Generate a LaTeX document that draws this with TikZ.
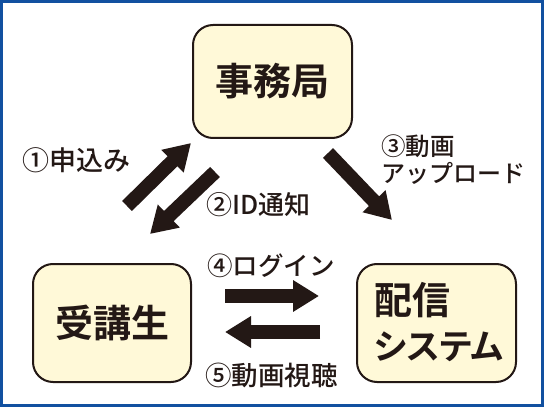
\documentclass[tikz,border=0pt]{standalone}
\usepackage{fontspec}
\setmainfont{Noto Sans CJK JP}[BoldFont={* Bold}]
\newfontfamily\jpp{Noto Sans CJK JP}[BoldFont={* Bold},RawFeature={+palt}]
\IfFontExistsTF{Noto Sans CJK JP Medium}
  {\newfontfamily\lblfont{Noto Sans CJK JP Medium}}
  {\newfontfamily\lblfont{Noto Sans CJK JP Bold}}
\usetikzlibrary{arrows.meta}
\definecolor{ink}{HTML}{231815}
\definecolor{cream}{HTML}{FFF9D8}
\definecolor{frameblue}{HTML}{1150A0}
\tikzset{
  box/.style={draw=ink, line width=2pt, fill=cream, rounded corners=20pt, inner sep=0pt},
  bigtext/.style={text=ink, font=\bfseries\fontsize{38}{44}\selectfont},
  lbl/.style={text=ink, font=\lblfont\fontsize{#1}{#1}\selectfont, inner sep=0pt, anchor=west},
  lbl/.default=26,
  blockarrow/.style={ink, line width=14pt, -{Triangle[width=30pt,length=26pt]}}
}
\begin{document}
\begin{tikzpicture}[x=1pt,y=-1pt]
\useasboundingbox (0,0) rectangle (546,409);
\fill[white] (0,0) rectangle (546,409);
\draw[frameblue, line width=3pt] (1.5,1.5) rectangle (542.5,405.5);
% boxes
\node[box, minimum width=159pt, minimum height=113pt] (office) at (272.5,81.5) {};
\node[box, minimum width=158pt, minimum height=118pt] (student) at (112,323) {};
\node[box, minimum width=159pt, minimum height=118pt] (system) at (436.5,323) {};
\node[bigtext] at (office.center) {事務局};
\node[bigtext] at (student.center) {受講生};
\node[bigtext, anchor=west, inner sep=0pt] (haishin) at (374,300) {配信};
\node[text=ink, anchor=west, inner sep=0pt, font=\jpp\bfseries\fontsize{35}{40}\selectfont] (sys) at (374,347) {システム};
% arrow end coordinates
\coordinate (a1s) at (127,206); \coordinate (a1e) at (191,143);
\coordinate (a2s) at (215,172); \coordinate (a2e) at (150,234);
\coordinate (a3s) at (328,153); \coordinate (a3e) at (392,220);
\coordinate (a4s) at (225,296); \coordinate (a4e) at (319,296);
\coordinate (a5s) at (320,332); \coordinate (a5e) at (225,332);
\draw[blockarrow] (a1s) -- (a1e);
\draw[blockarrow] (a2s) -- (a2e);
\draw[blockarrow] (a3s) -- (a3e);
\draw[blockarrow] (a4s) -- (a4e);
\draw[blockarrow] (a5s) -- (a5e);
% labels
\node[lbl=27] (l1) at (22,160) {①申込み};
\node[lbl=26] (l2) at (206,205) {②ID通知};
\node[lbl=24.5] (l3a) at (381,146) {③動画};
\node[lbl=24] (l3b) at (381,173) {アップロード};
\node[lbl=25.5] (l4) at (207,266) {④ログイン};
\node[lbl=26.5] (l5) at (205,375) {⑤動画視聴};
\end{tikzpicture}
\end{document}
